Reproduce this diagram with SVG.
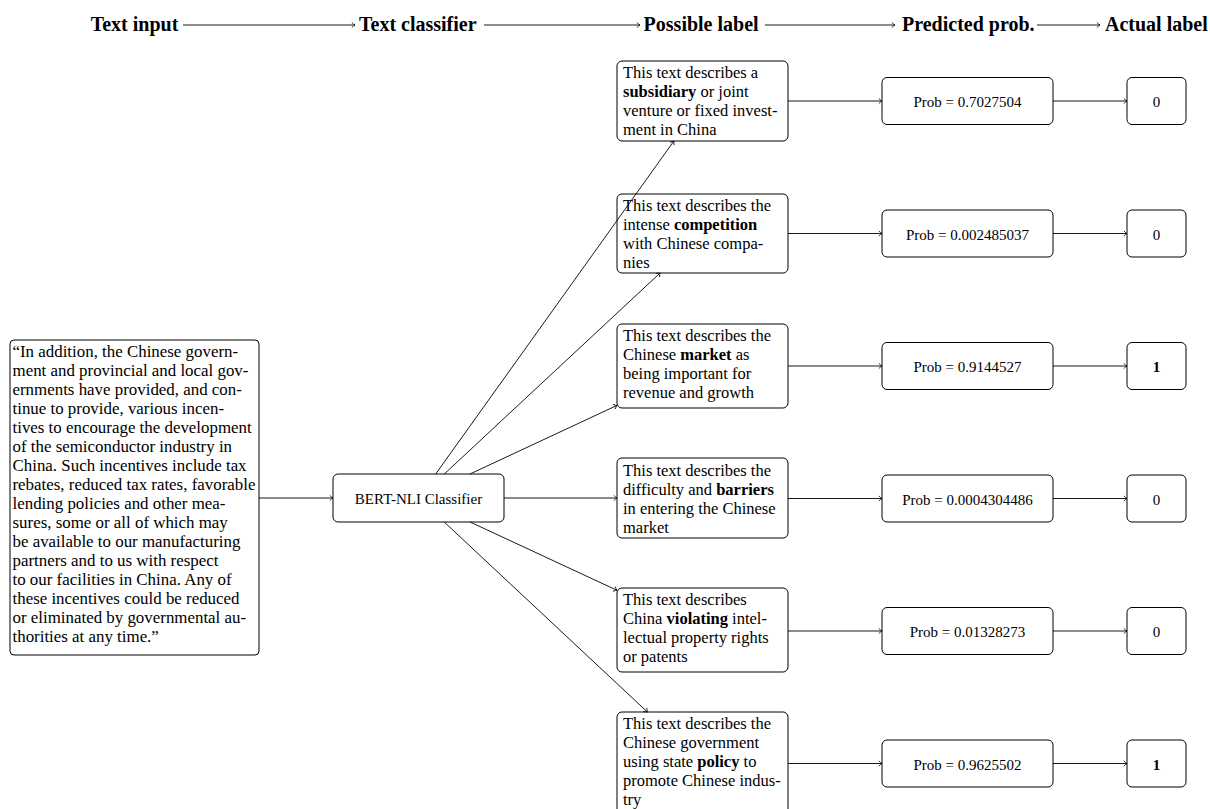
<svg xmlns="http://www.w3.org/2000/svg" width="1210" height="809" viewBox="0 0 1210 809">
<defs>
<marker id="ah" markerWidth="8" markerHeight="8" refX="0" refY="0" viewBox="-4 -4 5 8" orient="auto" markerUnits="userSpaceOnUse">
<path d="M-3.2,-2.6 Q-1.2,-0.6 0,0 Q-1.2,0.6 -3.2,2.6" fill="none" stroke="#000" stroke-width="0.8"/>
</marker>
<style>
.hd{font-family:"Liberation Serif",serif;font-weight:bold;font-size:20px;fill:#000}
.tx{font-family:"Liberation Serif",serif;font-size:16.5px;fill:#000}
.tl{font-family:"Liberation Serif",serif;font-size:16.9px;fill:#000}
.sm{font-family:"Liberation Serif",serif;font-size:15px;fill:#000}
.box{fill:#fff;stroke:#000;stroke-width:1}
.cn{fill:none;stroke:#000;stroke-width:0.9;marker-end:url(#ah)}
.b{font-weight:bold}
</style>
</defs>
<rect width="1210" height="809" fill="#fff"/>

<g id="headers">
<text class="hd" x="90.7" y="31">Text input</text>
<text class="hd" x="359" y="31">Text classifier</text>
<text class="hd" x="643.6" y="31">Possible label</text>
<text class="hd" x="902" y="31">Predicted prob.</text>
<text class="hd" x="1105" y="31">Actual label</text>
</g>

<g id="input">
<rect class="box" x="10" y="340" width="249" height="315" rx="4"/>
<text class="tl">
<tspan x="12.5" y="357">“In addition, the Chinese govern-</tspan>
<tspan x="12.5" y="376">ment and provincial and local gov-</tspan>
<tspan x="12.5" y="395">ernments have provided, and con-</tspan>
<tspan x="12.5" y="414">tinue to provide, various incen-</tspan>
<tspan x="12.5" y="433">tives to encourage the development</tspan>
<tspan x="12.5" y="452">of the semiconductor industry in</tspan>
<tspan x="12.5" y="471">China. Such incentives include tax</tspan>
<tspan x="12.5" y="490">rebates, reduced tax rates, favorable</tspan>
<tspan x="12.5" y="509">lending policies and other mea-</tspan>
<tspan x="12.5" y="528">sures, some or all of which may</tspan>
<tspan x="12.5" y="547">be available to our manufacturing</tspan>
<tspan x="12.5" y="566">partners and to us with respect</tspan>
<tspan x="12.5" y="585">to our facilities in China. Any of</tspan>
<tspan x="12.5" y="604">these incentives could be reduced</tspan>
<tspan x="12.5" y="623">or eliminated by governmental au-</tspan>
<tspan x="12.5" y="642">thorities at any time.”</tspan>
</text>
</g>

<g id="classifier">
<rect class="box" x="333" y="474" width="171" height="48" rx="5"/>
<text class="sm" x="418.5" y="504" text-anchor="middle">BERT-NLI Classifier</text>
</g>

<g id="label1">
<rect class="box" x="617" y="61" width="171" height="80" rx="5"/>
<text class="tx"><tspan x="623" y="78">This text describes a</tspan><tspan x="623" y="97" class="b">subsidiary</tspan><tspan> or joint</tspan><tspan x="623" y="116">venture or fixed invest-</tspan><tspan x="623" y="135">ment in China</tspan></text>
</g>
<g id="label2">
<rect class="box" x="617" y="194" width="171" height="79" rx="5"/>
<text class="tx"><tspan x="623" y="211">This text describes the</tspan><tspan x="623" y="230">intense </tspan><tspan class="b">competition</tspan><tspan x="623" y="249">with Chinese compa-</tspan><tspan x="623" y="268">nies</tspan></text>
</g>
<g id="label3">
<rect class="box" x="617" y="324" width="171" height="84" rx="5"/>
<text class="tx"><tspan x="623" y="341">This text describes the</tspan><tspan x="623" y="360">Chinese </tspan><tspan class="b">market</tspan><tspan> as</tspan><tspan x="623" y="379">being important for</tspan><tspan x="623" y="398">revenue and growth</tspan></text>
</g>
<g id="label4">
<rect class="box" x="617" y="458" width="171" height="80" rx="5"/>
<text class="tx"><tspan x="623" y="476">This text describes the</tspan><tspan x="623" y="495">difficulty and </tspan><tspan class="b">barriers</tspan><tspan x="623" y="514">in entering the Chinese</tspan><tspan x="623" y="533">market</tspan></text>
</g>
<g id="label5">
<rect class="box" x="617" y="588" width="171" height="84" rx="5"/>
<text class="tx"><tspan x="623" y="605">This text describes</tspan><tspan x="623" y="624">China </tspan><tspan class="b">violating</tspan><tspan> intel-</tspan><tspan x="623" y="643">lectual property rights</tspan><tspan x="623" y="662">or patents</tspan></text>
</g>
<g id="label6">
<rect class="box" x="617" y="712" width="171" height="103" rx="5"/>
<text class="tx"><tspan x="623" y="729">This text describes the</tspan><tspan x="623" y="748">Chinese government</tspan><tspan x="623" y="767">using state </tspan><tspan class="b">policy</tspan><tspan> to</tspan><tspan x="623" y="786">promote Chinese indus-</tspan><tspan x="623" y="805">try</tspan></text>
</g>

<g id="prob1"><rect class="box" x="882" y="77.5" width="171" height="47" rx="5"/><text class="sm" x="967.5" y="107" text-anchor="middle">Prob = 0.7027504</text></g>
<g id="prob2"><rect class="box" x="882" y="210" width="171" height="47" rx="5"/><text class="sm" x="967.5" y="239.5" text-anchor="middle">Prob = 0.002485037</text></g>
<g id="prob3"><rect class="box" x="882" y="342.5" width="171" height="47" rx="5"/><text class="sm" x="967.5" y="372" text-anchor="middle">Prob = 0.9144527</text></g>
<g id="prob4"><rect class="box" x="882" y="475" width="171" height="47" rx="5"/><text class="sm" x="967.5" y="504.5" text-anchor="middle">Prob = 0.0004304486</text></g>
<g id="prob5"><rect class="box" x="882" y="607.5" width="171" height="47" rx="5"/><text class="sm" x="967.5" y="637" text-anchor="middle">Prob = 0.01328273</text></g>
<g id="prob6"><rect class="box" x="882" y="740" width="171" height="47" rx="5"/><text class="sm" x="967.5" y="769.5" text-anchor="middle">Prob = 0.9625502</text></g>

<g id="actual1"><rect class="box" x="1127" y="77.5" width="59" height="47" rx="5"/><text class="sm" x="1156.5" y="107" text-anchor="middle">0</text></g>
<g id="actual2"><rect class="box" x="1127" y="210" width="59" height="47" rx="5"/><text class="sm" x="1156.5" y="239.5" text-anchor="middle">0</text></g>
<g id="actual3"><rect class="box" x="1127" y="342.5" width="59" height="47" rx="5"/><text class="sm b" x="1156.5" y="372" text-anchor="middle">1</text></g>
<g id="actual4"><rect class="box" x="1127" y="475" width="59" height="47" rx="5"/><text class="sm" x="1156.5" y="504.5" text-anchor="middle">0</text></g>
<g id="actual5"><rect class="box" x="1127" y="607.5" width="59" height="47" rx="5"/><text class="sm" x="1156.5" y="637" text-anchor="middle">0</text></g>
<g id="actual6"><rect class="box" x="1127" y="740" width="59" height="47" rx="5"/><text class="sm b" x="1156.5" y="769.5" text-anchor="middle">1</text></g>

<g id="connectors">
<line class="cn" x1="183" y1="25" x2="355" y2="25"/>
<line class="cn" x1="484" y1="25" x2="640" y2="25"/>
<line class="cn" x1="765" y1="25" x2="895" y2="25"/>
<line class="cn" x1="1037" y1="25" x2="1100" y2="25"/>

<line class="cn" x1="259" y1="498" x2="333" y2="498"/>
<line class="cn" x1="435.7" y1="474" x2="673.9" y2="141"/>
<line class="cn" x1="444.3" y1="474" x2="660.1" y2="273"/>
<line class="cn" x1="470" y1="474" x2="617" y2="405.4"/>
<line class="cn" x1="504" y1="498" x2="617" y2="498"/>
<line class="cn" x1="470.1" y1="522" x2="617" y2="590.3"/>
<line class="cn" x1="444.2" y1="522" x2="647.4" y2="712"/>

<line class="cn" x1="788" y1="101" x2="882" y2="101"/>
<line class="cn" x1="788" y1="233.5" x2="882" y2="233.5"/>
<line class="cn" x1="788" y1="366" x2="882" y2="366"/>
<line class="cn" x1="788" y1="498.5" x2="882" y2="498.5"/>
<line class="cn" x1="788" y1="631" x2="882" y2="631"/>
<line class="cn" x1="788" y1="763.5" x2="882" y2="763.5"/>

<line class="cn" x1="1053" y1="101" x2="1127" y2="101"/>
<line class="cn" x1="1053" y1="233.5" x2="1127" y2="233.5"/>
<line class="cn" x1="1053" y1="366" x2="1127" y2="366"/>
<line class="cn" x1="1053" y1="498.5" x2="1127" y2="498.5"/>
<line class="cn" x1="1053" y1="631" x2="1127" y2="631"/>
<line class="cn" x1="1053" y1="763.5" x2="1127" y2="763.5"/>
</g>
</svg>
